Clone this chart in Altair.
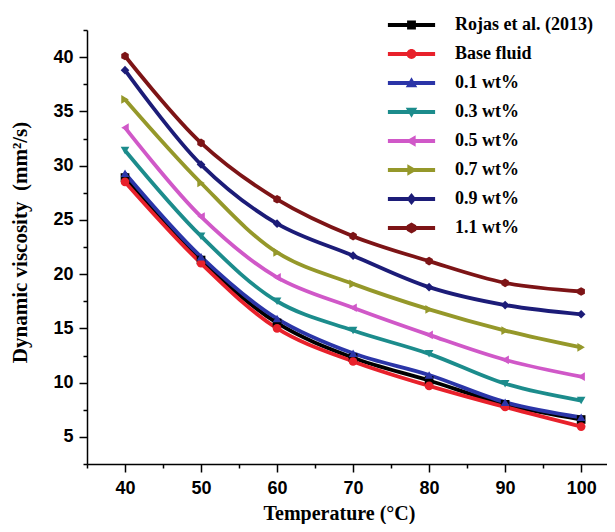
import altair as alt
import pandas as pd

# ---- data ----
temps = [40, 50, 60, 70, 80, 90, 100]
series_names = ["Rojas et al. (2013)", "Base fluid", "0.1 wt%", "0.3 wt%",
                "0.5 wt%", "0.7 wt%", "0.9 wt%", "1.1 wt%"]
rojas = [28.9, 21.3, 15.5, 12.3, 10.2, 8.0, 6.6]
base_fluid = [28.5, 21.0, 15.0, 11.95, 9.7, 7.75, 5.95]
wt01 = [29.3, 21.6, 15.9, 12.7, 10.7, 8.2, 6.8]
wt03 = [31.4, 23.5, 17.5, 14.8, 12.65, 9.9, 8.35]
wt05 = [33.5, 25.3, 19.7, 16.9, 14.4, 12.1, 10.55]
wt07 = [36.1, 28.4, 22.0, 19.1, 16.75, 14.8, 13.25]
wt09 = [38.8, 30.1, 24.65, 21.7, 18.8, 17.15, 16.3]
wt11 = [40.1, 32.1, 26.9, 23.5, 21.2, 19.2, 18.4]
all_series = [rojas, base_fluid, wt01, wt03, wt05, wt07, wt09, wt11]

x_major = [40, 50, 60, 70, 80, 90, 100]
x_minor = [35, 45, 55, 65, 75, 85, 95]
y_major = [5, 10, 15, 20, 25, 30, 35, 40]
y_minor = [2.5, 7.5, 12.5, 17.5, 22.5, 27.5, 32.5, 37.5, 42.5]

# ---- styles ----
colors = ["#000000", "#e8212b", "#2b35a8", "#1c8c8c", "#d058c8",
          "#95982a", "#1c1c78", "#7d1416"]
hexagon = "M0,-1L0.866,-0.5L0.866,0.5L0,1L-0.866,0.5L-0.866,-0.5Z"
plot_shapes = ["square", "circle", "triangle-up", "triangle-down",
               "triangle-left", "triangle-right", "diamond", hexagon]

bar = "M-2.95,-0.25H2.95V0.25H-2.95Z"
legend_markers = [
    "M-0.55,-0.55H0.55V0.55H-0.55Z",
    "M0.62,0A0.62,0.62,0,1,1,-0.62,0A0.62,0.62,0,1,1,0.62,0Z",
    "M0,-0.72L0.72,0.52L-0.72,0.52Z",
    "M0,0.72L-0.72,-0.52L0.72,-0.52Z",
    "M-0.72,0L0.52,-0.72L0.52,0.72Z",
    "M0.72,0L-0.52,0.72L-0.52,-0.72Z",
    "M0,-0.75L0.6,0L0,0.75L-0.6,0Z",
    "M0,-0.68L0.59,-0.34L0.59,0.34L0,0.68L-0.59,0.34L-0.59,-0.34Z",
]
legend_paths = [bar + m for m in legend_markers]

rows = []
for i, (name, vals) in enumerate(zip(series_names, all_series)):
    for t, v in zip(temps, vals):
        rows.append({"temp": t, "visc": v, "series": name,
                     "marker": plot_shapes[i], "k": i})
df = pd.DataFrame(rows)

xscale = alt.Scale(domain=[35, 103.4], nice=False, zero=False)
yscale = alt.Scale(domain=[2.5, 42.5], nice=False, zero=False)
cscale = alt.Scale(domain=series_names, range=colors)

axis_common = dict(grid=False, domainColor="black", tickColor="black",
                   labelColor="black", titleColor="black",
                   domainWidth=1.5, tickWidth=1.5)

x_axis = alt.Axis(values=x_major, tickSize=8, format="d",
                  labelFont="Liberation Sans", labelFontSize=18,
                  labelFontWeight="bold", labelPadding=7,
                  title="Temperature (°C)", titleFont="Liberation Serif",
                  titleFontSize=20, titleFontWeight="bold",
                  titleX=252, titleY=39, **axis_common)
y_axis = alt.Axis(values=y_major, tickSize=8, format="d",
                  labelFont="Liberation Sans", labelFontSize=18,
                  labelFontWeight="bold", labelPadding=6,
                  title="Dynamic viscosity\u00a0\u00a0(mm²/s)",
                  titleFont="Liberation Serif",
                  titleFontSize=21, titleFontWeight="bold",
                  titleX=-57, titleY=212, **axis_common)

legend_props = dict(orient="none", legendX=315.5, legendY=-14, padding=0,
                    title=None, labelFont="Liberation Serif", labelFontSize=18,
                    labelFontWeight="bold", labelColor="black", labelLimit=300,
                    symbolSize=256, symbolStrokeWidth=0, symbolOpacity=1,
                    labelOffset=34.5, rowPadding=11)

legend_layer = alt.Chart(df).transform_filter("false").mark_point(
    filled=True, opacity=1).encode(
    color=alt.Color("series:N", scale=cscale, legend=alt.Legend(**legend_props)),
    shape=alt.Shape("series:N",
                    scale=alt.Scale(domain=series_names, range=legend_paths),
                    legend=alt.Legend(**legend_props)),
)

lines = alt.Chart(df).mark_line(interpolate="catmull-rom", strokeWidth=3.8).encode(
    x=alt.X("temp:Q", scale=xscale, axis=x_axis),
    y=alt.Y("visc:Q", scale=yscale, axis=y_axis),
    color=alt.Color("series:N", scale=cscale, legend=None),
    order="temp:Q",
)

points = alt.Chart(df).mark_point(filled=True, opacity=1, size=75).encode(
    x=alt.X("temp:Q", scale=xscale, axis=None),
    y=alt.Y("visc:Q", scale=yscale, axis=None),
    color=alt.Color("series:N", scale=cscale, legend=None),
    shape=alt.Shape("marker:N", scale=None, legend=None),
)

minor = alt.Chart(df).transform_filter("false").mark_point().encode(
    x=alt.X("temp:Q", scale=xscale,
            axis=alt.Axis(values=x_minor, tickSize=4, labels=False, domain=False,
                          title=None, orient="bottom", **axis_common)),
    y=alt.Y("visc:Q", scale=yscale,
            axis=alt.Axis(values=y_minor, tickSize=4, labels=False, domain=False,
                          title=None, orient="left", **axis_common)),
)

chart = alt.layer(legend_layer, lines, points, minor).resolve_axis(
    x="independent", y="independent"
).properties(
    width=520, height=434,
    autosize=alt.AutoSizeParams(type="none"),
    padding={"left": 79, "top": 22, "right": 0, "bottom": 60},
    background="white",
).configure_view(stroke=None)

chart.save("out.html", embed_options={"renderer": "svg", "actions": False})
